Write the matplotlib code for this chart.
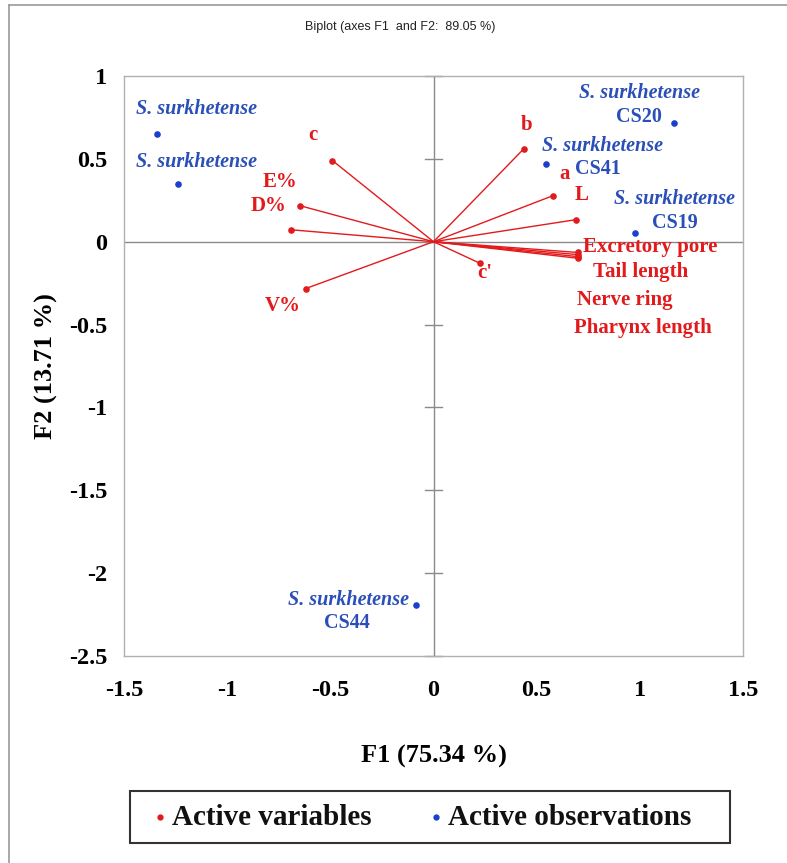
import matplotlib
matplotlib.use("Agg")
import matplotlib.pyplot as plt
from matplotlib.patches import Rectangle
from matplotlib.lines import Line2D

# ---- data ----
var_names = ["c", "E%", "D%", "V%", "b", "a", "L", "Excretory pore",
             "Tail length", "Nerve ring", "Pharynx length", "c'"]
var_x = [-0.49, -0.646, -0.69, -0.62, 0.437, 0.577, 0.69, 0.70, 0.70, 0.70, 0.70, 0.225]
var_y = [0.49, 0.217, 0.072, -0.283, 0.56, 0.277, 0.133, -0.065, -0.078, -0.09, -0.10, -0.13]
# label positions for variables (data coords)
var_lx = [-0.584, -0.744, -0.797, -0.73, 0.453, 0.637, 0.72, 0.725, 0.773, 0.695, 0.68, 0.25]
var_ly = [0.646, 0.362, 0.217, -0.386, 0.706, 0.41, 0.284, -0.03, -0.18, -0.35, -0.52, -0.187]
var_ha = ["center", "center", "center", "center", "center", "center", "center",
          "left", "left", "left", "left", "center"]

obs_names = ["", "", "CS20", "CS41", "CS19", "CS44"]
obs_x = [-1.34, -1.24, 1.165, 0.544, 0.976, -0.087]
obs_y = [0.65, 0.35, 0.717, 0.47, 0.054, -2.19]
obs_species = "S. surkhetense"
obs_lx = [-1.15, -1.15, 0.996, 0.817, 1.17, -0.41]
obs_ly = [0.80, 0.48, 0.90, 0.58, 0.26, -2.16]
obs_cx = [None, None, 0.994, 0.797, 1.17, -0.42]
obs_cy = [None, None, 0.755, 0.44, 0.115, -2.30]

xticks = [-1.5, -1, -0.5, 0, 0.5, 1, 1.5]
yticks = [1, 0.5, 0, -0.5, -1, -1.5, -2, -2.5]
tick_labels_x = ["-1.5", "-1", "-0.5", "0", "0.5", "1", "1.5"]
tick_labels_y = ["1", "0.5", "0", "-0.5", "-1", "-1.5", "-2", "-2.5"]

title = "Biplot (axes F1  and F2:  89.05 %)"
xlabel = "F1 (75.34 %)"
ylabel = "F2 (13.71 %)"

RED = "#e31a1c"
BLUE = "#1a3fd0"
LBLUE = "#2a4fb8"
SERIF = "Liberation Serif"

fig = plt.figure(figsize=(7.87, 8.63), dpi=100)
ax = fig.add_axes([124/787, 1-656/863, (743-124)/787, (656-76)/863])
ax.set_xlim(-1.5, 1.5)
ax.set_ylim(-2.5, 1)

for s in ax.spines.values():
    s.set_color("#b0b0b0")
    s.set_linewidth(1.0)

ax.axhline(0, color="#8a8a8a", lw=1.0, zorder=1)
ax.axvline(0, color="#8a8a8a", lw=1.0, zorder=1)
# cross ticks on vertical centre line
for yt in yticks:
    ax.plot([-0.042, 0.042], [yt, yt], color="#8a8a8a", lw=1.0, zorder=1, clip_on=False)

ax.set_xticks(xticks)
ax.set_yticks(yticks)
ax.set_xticklabels(tick_labels_x, fontfamily=SERIF, fontweight="bold", fontsize=17.5)
ax.set_yticklabels(tick_labels_y, fontfamily=SERIF, fontweight="bold", fontsize=17.5)
ax.tick_params(axis="x", length=0, pad=17)
ax.tick_params(axis="y", length=0, pad=12)

ax.set_xlabel(xlabel, fontfamily=SERIF, fontweight="bold", fontsize=19, labelpad=32)
ax.set_ylabel(ylabel, fontfamily=SERIF, fontweight="bold", fontsize=19, labelpad=8)

# variables
for x, y in zip(var_x, var_y):
    ax.plot([0, x], [0, y], color=RED, lw=1.0, zorder=2)
ax.scatter(var_x, var_y, s=14, color=RED, zorder=3)
for n, lx, ly, ha in zip(var_names, var_lx, var_ly, var_ha):
    ax.text(lx, ly, n, color=RED, fontfamily=SERIF, fontweight="bold",
            fontsize=15, ha=ha, va="center", zorder=4)

# observations
ax.scatter(obs_x, obs_y, s=14, color=BLUE, zorder=3)
for n, lx, ly, cx, cy in zip(obs_names, obs_lx, obs_ly, obs_cx, obs_cy):
    ax.text(lx, ly, obs_species, color=LBLUE, fontfamily=SERIF, fontweight="bold",
            fontstyle="italic", fontsize=14.5, ha="center", va="center", zorder=4)
    if n:
        ax.text(cx, cy, n, color=LBLUE, fontfamily=SERIF, fontweight="bold",
                fontsize=14.5, ha="center", va="center", zorder=4)

# title
fig.text(400/787, 1-27/863, title, ha="center", va="center", fontsize=9,
         fontfamily="Liberation Sans", color="#222222")

# outer border (top and left)
fig.add_artist(Line2D([9/787, 1], [1-5/863, 1-5/863], color="#999999", lw=1.2,
                      transform=fig.transFigure))
fig.add_artist(Line2D([9/787, 9/787], [0, 1-5/863], color="#999999", lw=1.2,
                      transform=fig.transFigure))

# legend box
fig.add_artist(Rectangle((130/787, 1-843/863), (730-130)/787, (843-791)/863,
                         transform=fig.transFigure, fill=False, edgecolor="#333333", lw=1.5))
ly = 1-817/863
fig.add_artist(Line2D([160/787], [ly], marker="o", markersize=3.5, color=RED,
                      transform=fig.transFigure, linestyle="none"))
fig.text(172/787, ly, "Active variables", fontfamily=SERIF, fontweight="bold",
         fontsize=21, ha="left", va="center", color="#111111")
fig.add_artist(Line2D([436/787], [ly], marker="o", markersize=3.5, color=BLUE,
                      transform=fig.transFigure, linestyle="none"))
fig.text(448/787, ly, "Active observations", fontfamily=SERIF, fontweight="bold",
         fontsize=21, ha="left", va="center", color="#111111")

fig.savefig("out.png", dpi=100, facecolor="white")
